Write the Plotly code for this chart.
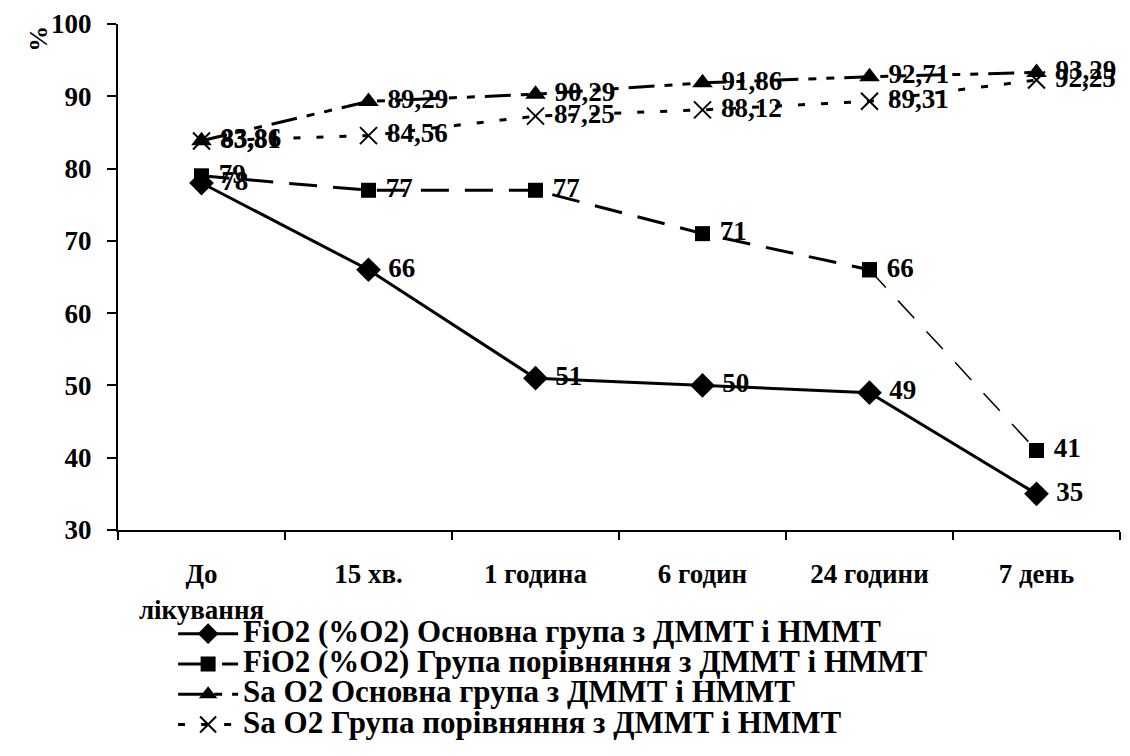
import plotly.graph_objects as go

categories = ["До<br>лікування", "15 хв.", "1 година", "6 годин", "24 години", "7 день"]

fio2_main = [78, 66, 51, 50, 49, 35]
fio2_comp = [79, 77, 77, 71, 66, 41]
sao2_main = [83.86, 89.29, 90.29, 91.86, 92.71, 93.29]
sao2_comp = [83.81, 84.56, 87.25, 88.12, 89.31, 92.25]

names = [
    "FiO2 (%O2) Основна група з ДММТ і НММТ",
    "FiO2 (%O2) Група порівняння з ДММТ і НММТ",
    "Sa O2 Основна група з ДММТ і НММТ",
    "Sa O2 Група порівняння з ДММТ і НММТ",
]

FONT = "Liberation Serif, Times New Roman, serif"
label_font = dict(family=FONT, size=27, color="black", weight=700)
PAD = "\u00a0"  # small gap between marker and its value label


def fmt_int(vals):
    return [PAD + f"{v:d}" for v in vals]


def fmt_dec(vals):
    return [PAD + f"{v:.2f}".replace(".", ",") for v in vals]


def legend_name(s):
    # larger glyphs than the row pitch the legend font implies
    return f'<span style="font-size:31px">{s}</span>'


fig = go.Figure()

fig.add_trace(go.Scatter(
    x=categories, y=fio2_main, name=legend_name(names[0]), mode="lines+markers+text",
    text=fmt_int(fio2_main), textposition="middle right", textfont=label_font,
    line=dict(color="black", width=3),
    marker=dict(symbol="diamond", size=19, color="black"),
))

# comparison FiO2: thick dashed line up to 24 h, thin dashed final segment
fig.add_trace(go.Scatter(
    x=categories[:5], y=fio2_comp[:5], name=legend_name(names[1]), mode="lines+markers+text",
    text=fmt_int(fio2_comp[:5]), textposition="middle right", textfont=label_font,
    line=dict(color="black", width=3, dash="28px,16px"),
    marker=dict(symbol="square", size=15, color="black"),
    legendgroup="fc",
))
fig.add_trace(go.Scatter(
    x=categories[4:], y=fio2_comp[4:], mode="lines+markers+text",
    text=["", fmt_int(fio2_comp)[5]], textposition="middle right", textfont=label_font,
    line=dict(color="black", width=1.5, dash="24px,18px"),
    marker=dict(symbol="square", size=15, color="black"),
    legendgroup="fc", showlegend=False,
))

fig.add_trace(go.Scatter(
    x=categories, y=sao2_main, name=legend_name(names[2]), mode="lines+markers+text",
    text=fmt_dec(sao2_main), textposition="middle right", textfont=label_font,
    line=dict(color="black", width=3, dash="26px,10px,8px,10px,8px,10px"),
    marker=dict(symbol="triangle-up", size=18, color="black"),
))

fig.add_trace(go.Scatter(
    x=categories, y=sao2_comp, name=legend_name(names[3]), mode="lines+markers+text",
    text=fmt_dec(sao2_comp), textposition="middle right", textfont=label_font,
    line=dict(color="black", width=3, dash="7px,16px"),
    marker=dict(symbol="x-thin-open", size=17, color="black",
                line=dict(color="black", width=2)),
))

fig.update_layout(
    width=1130, height=756,
    margin=dict(l=118, r=10, t=24, b=222),
    paper_bgcolor="white", plot_bgcolor="white",
    font=dict(family=FONT, size=26, color="black", weight=700),
    showlegend=True,
    legend=dict(
        x=0.055, y=-0.165, xanchor="left", yanchor="top",
        font=dict(family=FONT, size=21, color="black", weight=700),
        itemwidth=60, tracegroupgap=0, bgcolor="rgba(0,0,0,0)",
    ),
    xaxis=dict(
        type="category", tickson="boundaries", ticks="outside", ticklen=8,
        tickwidth=2, tickcolor="black", showline=True, linecolor="black",
        linewidth=2, showgrid=False, zeroline=False, ticklabelstandoff=19,
        tickfont=dict(family=FONT, size=27, color="black", weight=700),
        range=[-0.5, 5.5],
    ),
    yaxis=dict(
        range=[30, 100], dtick=10, ticks="outside", ticklen=9, tickwidth=2,
        tickcolor="black", showline=True, linecolor="black", linewidth=2,
        showgrid=False, zeroline=False, ticklabelstandoff=10,
        tickfont=dict(family=FONT, size=27, color="black", weight=700),
    ),
    annotations=[dict(
        text="%", xref="paper", yref="paper", x=-0.08, y=1.0,
        xanchor="center", yanchor="top", textangle=-90, showarrow=False,
        font=dict(family=FONT, size=26, color="black", weight=700),
    )],
)

fig.write_html("out.html")
